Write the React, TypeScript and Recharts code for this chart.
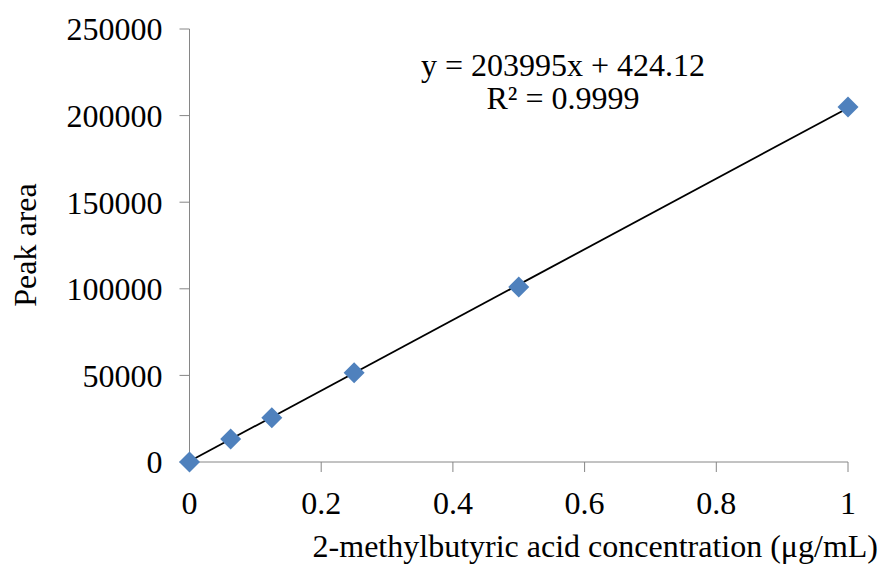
import React from 'react';
import { ComposedChart, Scatter, XAxis, YAxis, Line } from 'recharts';

const concentrations = [0, 0.0625, 0.125, 0.25, 0.5, 1];
const peakAreas = [0, 13300, 25600, 51500, 101000, 205000];
const xTicks = [0, 0.2, 0.4, 0.6, 0.8, 1];
const yTicks = [0, 50000, 100000, 150000, 200000, 250000];
const slope = 203995;
const intercept = 424.12;
const trendX = [0, 1];

const points = concentrations.map((x, i) => ({ x, y: peakAreas[i] }));
const trend = trendX.map((x) => ({ x, t: slope * x + intercept }));

const FONT = "'Liberation Serif', 'Times New Roman', serif";

const Diamond = (props: any) => {
  const { cx, cy } = props;
  const r = 10.5;
  return (
    <polygon
      points={`${cx},${cy - r} ${cx + r},${cy} ${cx},${cy + r} ${cx - r},${cy}`}
      fill="#4F81BD"
    />
  );
};

export default function App() {
  return (
    <div style={{ position: 'absolute', left: 0, top: 0, width: 886, height: 568, background: '#fff' }}>
      <ComposedChart
        width={886}
        height={568}
        margin={{ top: 29, right: 38, bottom: 56, left: 0 }}
      >
        <XAxis
          type="number"
          dataKey="x"
          domain={[0, 1]}
          ticks={xTicks}
          tickFormatter={(v: number) => String(v)}
          height={50}
          tickSize={10}
          tickMargin={19}
          stroke="#868686"
          tick={{ fill: '#000', fontSize: 32, fontFamily: FONT }}
        />
        <YAxis
          type="number"
          domain={[0, 250000]}
          ticks={yTicks}
          width={189.5}
          tickSize={10}
          tickMargin={17}
          stroke="#868686"
          tick={{ fill: '#000', fontSize: 32, fontFamily: FONT }}
        />
        <Line
          data={trend}
          dataKey="t"
          type="linear"
          stroke="#000"
          strokeWidth={1.8}
          dot={false}
          activeDot={false}
          isAnimationActive={false}
        />
        <Scatter
          data={points}
          dataKey="y"
          shape={<Diamond />}
          isAnimationActive={false}
        />
        <text x={563} y={76} textAnchor="middle" fontFamily={FONT} fontSize={32} fill="#000">
          y = 203995x + 424.12
        </text>
        <text x={563} y={109} textAnchor="middle" fontFamily={FONT} fontSize={32} fill="#000">
          R² = 0.9999
        </text>
        <text x={878} y={557} textAnchor="end" fontFamily={FONT} fontSize={32} fill="#000">
          2-methylbutyric acid concentration (μg/mL)
        </text>
        <text
          x={0}
          y={0}
          transform="translate(36,245) rotate(-90)"
          textAnchor="middle"
          fontFamily={FONT}
          fontSize={32}
          fill="#000"
        >
          Peak area
        </text>
      </ComposedChart>
    </div>
  );
}
